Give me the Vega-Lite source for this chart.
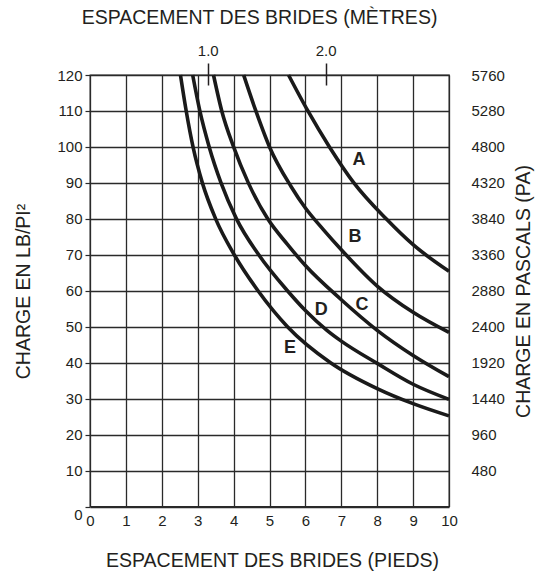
{
  "$schema": "https://vega.github.io/schema/vega-lite/v6.json",
  "width": 359,
  "height": 431.5,
  "autosize": "none",
  "padding": {"left": 90, "top": 75, "right": 101, "bottom": 69.5},
  "background": "white",
  "config": {
    "view": {"stroke": "#2a2a2a", "strokeWidth": 1.3},
    "font": "Liberation Sans",
    "axis": {
      "labelFont": "Liberation Sans",
      "titleFont": "Liberation Sans",
      "labelColor": "#231f20",
      "titleColor": "#231f20",
      "labelFontSize": 15,
      "titleFontSize": 19.5,
      "titleFontWeight": "normal",
      "labelOverlap": false,
      "labelFlush": false,
      "titleAlign": "center",
      "titleBaseline": "middle"
    }
  },
  "datasets": {
    "curves": [
      {"series": "A", "ft": 5.53, "lb": 120},
      {"series": "A", "ft": 6.07, "lb": 110},
      {"series": "A", "ft": 6.67, "lb": 100},
      {"series": "A", "ft": 7.35, "lb": 90},
      {"series": "A", "ft": 8.25, "lb": 80},
      {"series": "A", "ft": 9.0, "lb": 72.8},
      {"series": "A", "ft": 10, "lb": 65.4},
      {"series": "B", "ft": 4.28, "lb": 120},
      {"series": "B", "ft": 4.62, "lb": 110},
      {"series": "B", "ft": 5.0, "lb": 100},
      {"series": "B", "ft": 5.6, "lb": 89},
      {"series": "B", "ft": 6.0, "lb": 83},
      {"series": "B", "ft": 6.5, "lb": 77},
      {"series": "B", "ft": 7.0, "lb": 71.4},
      {"series": "B", "ft": 8.0, "lb": 61.3},
      {"series": "B", "ft": 9.0, "lb": 54},
      {"series": "B", "ft": 10, "lb": 48.4},
      {"series": "C", "ft": 3.44, "lb": 120},
      {"series": "C", "ft": 3.67, "lb": 110},
      {"series": "C", "ft": 4.0, "lb": 100},
      {"series": "C", "ft": 4.41, "lb": 90},
      {"series": "C", "ft": 4.95, "lb": 80},
      {"series": "C", "ft": 5.5, "lb": 72.9},
      {"series": "C", "ft": 6.0, "lb": 67},
      {"series": "C", "ft": 7.0, "lb": 57.5},
      {"series": "C", "ft": 8.0, "lb": 49},
      {"series": "C", "ft": 9.0, "lb": 42},
      {"series": "C", "ft": 10, "lb": 36.1},
      {"series": "D", "ft": 2.86, "lb": 120},
      {"series": "D", "ft": 3.06, "lb": 110},
      {"series": "D", "ft": 3.32, "lb": 100},
      {"series": "D", "ft": 3.65, "lb": 90},
      {"series": "D", "ft": 4.08, "lb": 80},
      {"series": "D", "ft": 4.7, "lb": 70},
      {"series": "D", "ft": 5.5, "lb": 60},
      {"series": "D", "ft": 6.0, "lb": 54.5},
      {"series": "D", "ft": 6.6, "lb": 49},
      {"series": "D", "ft": 7.0, "lb": 46},
      {"series": "D", "ft": 8.0, "lb": 39.8},
      {"series": "D", "ft": 9.0, "lb": 34},
      {"series": "D", "ft": 10, "lb": 29.8},
      {"series": "E", "ft": 2.52, "lb": 120},
      {"series": "E", "ft": 2.68, "lb": 110},
      {"series": "E", "ft": 2.87, "lb": 100},
      {"series": "E", "ft": 3.13, "lb": 90},
      {"series": "E", "ft": 3.5, "lb": 80},
      {"series": "E", "ft": 4.02, "lb": 70},
      {"series": "E", "ft": 4.68, "lb": 60},
      {"series": "E", "ft": 5.5, "lb": 50},
      {"series": "E", "ft": 6.7, "lb": 40},
      {"series": "E", "ft": 8.0, "lb": 32.8},
      {"series": "E", "ft": 9.0, "lb": 28.6},
      {"series": "E", "ft": 10, "lb": 25.2}
    ],
    "labels": [
      {"series": "A", "ft": 7.49, "lb": 96.4},
      {"series": "B", "ft": 7.38, "lb": 74.9},
      {"series": "C", "ft": 7.58, "lb": 56},
      {"series": "D", "ft": 6.44, "lb": 54.6},
      {"series": "E", "ft": 5.57, "lb": 44.1}
    ]
  },
  "layer": [
    {
      "data": {"name": "curves"},
      "mark": {"type": "line", "interpolate": "monotone", "stroke": "#1a1a1a", "strokeWidth": 3.6},
      "encoding": {
        "x": {
          "field": "ft", "type": "quantitative",
          "scale": {"domain": [0, 10], "nice": false, "zero": true},
          "axis": {
            "orient": "bottom",
            "values": [0, 1, 2, 3, 4, 5, 6, 7, 8, 9, 10],
            "grid": true, "gridColor": "#2a2a2a", "gridWidth": 1.3, "gridOpacity": 1,
            "domain": false, "ticks": false, "labelPadding": 7,
            "title": "ESPACEMENT DES BRIDES (PIEDS)",
            "titleX": 182, "titleY": 54
          }
        },
        "y": {
          "field": "lb", "type": "quantitative",
          "scale": {"domain": [0, 120], "nice": false},
          "axis": {
            "orient": "left",
            "values": [0, 10, 20, 30, 40, 50, 60, 70, 80, 90, 100, 110, 120],
            "grid": true, "gridColor": "#2a2a2a", "gridWidth": 1.3, "gridOpacity": 1,
            "domain": false, "ticks": true, "tickSize": 5, "tickColor": "#2a2a2a", "tickWidth": 1.2,
            "labelPadding": 3,
            "labelOffset": {"condition": {"test": "datum.value === 0", "value": 8}, "value": 0},
            "title": "CHARGE EN LB/PI²",
            "titleX": -67, "titleY": 216, "titleAngle": 270
          }
        },
        "detail": {"field": "series"}
      }
    },
    {
      "data": {"name": "labels"},
      "mark": {"type": "text", "fontWeight": "bold", "fontSize": 18, "font": "Liberation Sans", "color": "#231f20"},
      "encoding": {
        "x": {
          "field": "ft", "type": "quantitative",
          "scale": {"domain": [0, 10], "nice": false},
          "axis": {
            "orient": "top",
            "values": [3.28084, 6.56168],
            "labelExpr": "format(datum.value / 3.28084, '.1f')",
            "offset": -10, "tickSize": 22, "tickColor": "#231f20", "tickWidth": 1.5,
            "domain": false, "grid": false, "labelPadding": 5,
            "title": "ESPACEMENT DES BRIDES (MÈTRES)",
            "titleX": 169, "titleY": -68
          }
        },
        "y": {
          "field": "lb", "type": "quantitative",
          "scale": {"domain": [0, 120], "nice": false},
          "axis": {
            "orient": "right",
            "values": [10, 20, 30, 40, 50, 60, 70, 80, 90, 100, 110, 120],
            "labelExpr": "format(datum.value * 48, 'd')",
            "grid": false, "domain": false, "ticks": false, "labelPadding": 22,
            "title": "CHARGE EN PASCALS (PA)",
            "titleX": 74, "titleY": 216, "titleAngle": 270
          }
        },
        "text": {"field": "series"}
      }
    }
  ],
  "resolve": {"scale": {"y": "independent"}, "axis": {"x": "independent", "y": "independent"}}
}
